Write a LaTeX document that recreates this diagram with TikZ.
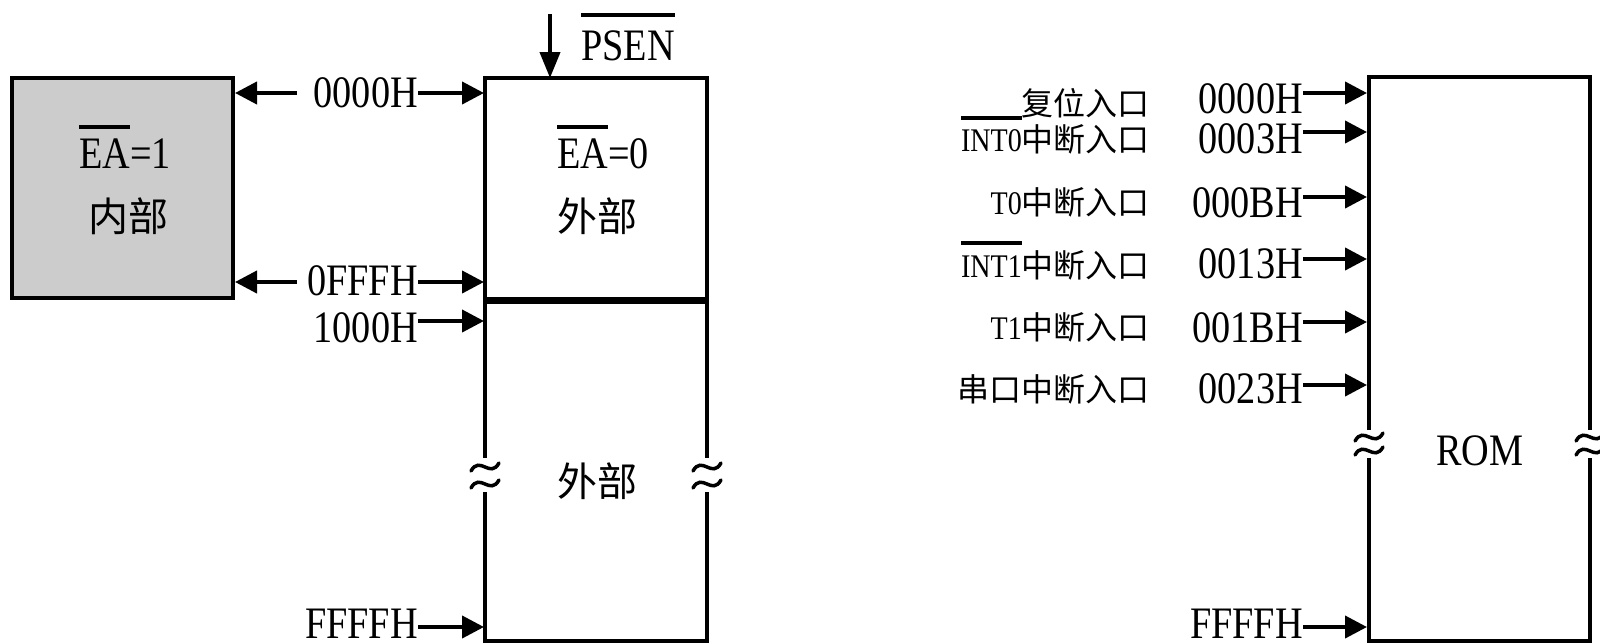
\documentclass[tikz,border=0pt]{standalone}
\usepackage{fontspec}
\setmainfont{Liberation Serif}[FakeStretch=0.85]
\newfontfamily\cjk{Noto Sans CJK SC}
\usetikzlibrary{arrows.meta}
\definecolor{boxgray}{RGB}{204,204,204}
\newcommand\ovl[2]{\vbox{\hrule height 3.5pt\kern#1pt\hbox{#2}}}
\newcommand\zh[1]{{\cjk\fontsize{32}{38}\selectfont #1}}
\newcommand\brk[2]{\draw[tilde] (#1-14,#2+4) .. controls (#1-5,#2-12) and (#1+5,#2+12) .. (#1+14,#2-4);}
\tikzset{
  big/.style={font=\fontsize{45}{50}\selectfont, inner sep=0pt},
  small/.style={font=\fontsize{33}{38}\selectfont, inner sep=0pt, anchor=base east},
  cjkbig/.style={font=\cjk\fontsize{40}{46}\selectfont, inner sep=0pt},
  boxedge/.style={line width=4pt, line join=miter},
  tilde/.style={line width=3.5pt, line cap=round},
  arr/.style={line width=4pt, -{Triangle[length=22pt,width=22pt]}},
}
\begin{document}
\begin{tikzpicture}[x=1pt,y=-1pt]
\useasboundingbox (0,0) rectangle (1600,643);
% internal (gray) box
\filldraw[boxedge, fill=boxgray] (12,78) rectangle (233,298);
\node[big, anchor=base] (ea1) at (125,168) {\ovl{9.5}{EA}=1};
\node[cjkbig] (nb) at (128,216) {内部};
% external upper box
\draw[boxedge] (485,78) rectangle (707,300);
\node[big, anchor=base] (ea0) at (603,168) {\ovl{9.5}{EA}=0};
\node[cjkbig] (wb1) at (597,216) {外部};
% external lower box
\draw[boxedge] (485,458) -- (485,300) -- (707,300) -- (707,458);
\draw[boxedge] (485,492) -- (485,641) -- (707,641) -- (707,492);
\draw[line width=7pt] (485,300) -- (707,300);
\brk{485}{467}\brk{485}{484}\brk{707}{467}\brk{707}{484}
\node[cjkbig] (wb2) at (597,481) {外部};
% PSEN
\node[big, anchor=base] (psen) at (628,60) {\ovl{13.5}{PSEN}};
\coordinate (ptop) at (550,14);
\coordinate (pbot) at (550,78);
\draw[line width=4pt, -{Triangle[length=26pt,width=20pt]}] (ptop) -- (pbot);
% left addresses
\node[big, anchor=base east] (a0) at (418,107) {0000H};
\node[big, anchor=base east] (a1) at (418,295) {0FFFH};
\node[big, anchor=base east] (a2) at (418,342) {1000H};
\node[big, anchor=base east] (a3) at (418,638) {FFFFH};
\coordinate (x0) at (484,93);
\coordinate (x1) at (484,282);
\coordinate (x2) at (484,321);
\coordinate (x3) at (484,627);
\coordinate (g0) at (235,93);
\coordinate (g1) at (235,282);
\coordinate (s0) at (297,93);
\coordinate (s1) at (297,282);
\draw[arr] (a0.east |- x0) -- (x0);
\draw[arr] (a1.east |- x1) -- (x1);
\draw[arr] (a2.east |- x2) -- (x2);
\draw[arr] (a3.east |- x3) -- (x3);
\draw[arr] (s0) -- (g0);
\draw[arr] (s1) -- (g1);
% ROM box
\draw[boxedge] (1369,430) -- (1369,77) -- (1590,77) -- (1590,430);
\draw[boxedge] (1369,458) -- (1369,641) -- (1590,641) -- (1590,458);
\brk{1369}{437}\brk{1369}{451}\brk{1590}{437}\brk{1590}{451}
\node[big, anchor=base] (rom) at (1480,465) {ROM};
% right addresses
\node[big, anchor=base east] (r0) at (1303,113) {0000H};
\node[big, anchor=base east] (r1) at (1303,153) {0003H};
\node[big, anchor=base east] (r2) at (1303,217) {000BH};
\node[big, anchor=base east] (r3) at (1303,278) {0013H};
\node[big, anchor=base east] (r4) at (1303,342) {001BH};
\node[big, anchor=base east] (r5) at (1303,403) {0023H};
\node[big, anchor=base east] (r6) at (1303,638) {FFFFH};
\coordinate (y0) at (1367,93);
\coordinate (y1) at (1367,132);
\coordinate (y2) at (1367,197);
\coordinate (y3) at (1367,259);
\coordinate (y4) at (1367,322);
\coordinate (y5) at (1367,385);
\coordinate (y6) at (1367,627);
\draw[arr] (r0.east |- y0) -- (y0);
\draw[arr] (r1.east |- y1) -- (y1);
\draw[arr] (r2.east |- y2) -- (y2);
\draw[arr] (r3.east |- y3) -- (y3);
\draw[arr] (r4.east |- y4) -- (y4);
\draw[arr] (r5.east |- y5) -- (y5);
\draw[arr] (r6.east |- y6) -- (y6);
% entry labels
\node[small] (e0) at (1150,115) {\zh{复位入口}};
\node[small] (e1) at (1150,151) {\ovl{9.5}{INT0}\zh{中断入口}};
\node[small] (e2) at (1150,214) {T0\zh{中断入口}};
\node[small] (e3) at (1150,277) {\ovl{10.5}{INT1}\zh{中断入口}};
\node[small] (e4) at (1150,339) {T1\zh{中断入口}};
\node[small] (e5) at (1150,401) {\zh{串口中断入口}};
\end{tikzpicture}
\end{document}
